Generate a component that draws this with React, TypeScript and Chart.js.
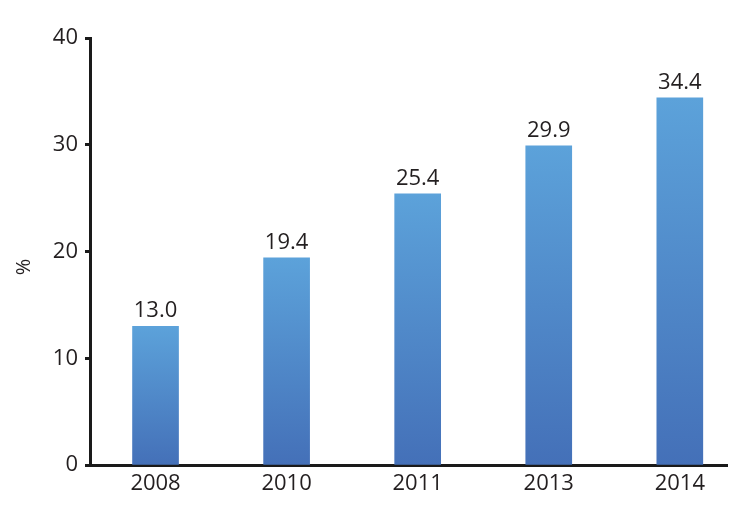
import React, { useEffect, useRef } from "react";
import { Chart, registerables } from "chart.js";

Chart.register(...registerables);

const categories: string[] = ["2008", "2010", "2011", "2013", "2014"];
const values: number[] = [13.0, 19.4, 25.4, 29.9, 34.4];
const yTicks: number[] = [0, 10, 20, 30, 40];
const yTitle = "%";

const FONT = "'Open Sans', 'Noto Sans', sans-serif";
const TEXT = "#231f20";
const AXIS = "#1a1a1a";

const barLabels = {
  id: "barLabels",
  afterDatasetsDraw(chart: any) {
    const ctx = chart.ctx;
    const meta = chart.getDatasetMeta(0);
    ctx.save();
    ctx.font = `22px ${FONT}`;
    ctx.fillStyle = TEXT;
    ctx.textAlign = "center";
    ctx.textBaseline = "bottom";
    meta.data.forEach((el: any, i: number) => {
      ctx.fillText(values[i].toFixed(1), el.x, el.y - 4);
    });
    ctx.restore();
  },
};

export default function App() {
  const ref = useRef<HTMLCanvasElement>(null);
  useEffect(() => {
    const chart = new Chart(ref.current!, {
      type: "bar",
      data: {
        datasets: [
          {
            data: values.map((v, i) => ({ x: i, y: v })),
            barThickness: 46,
            borderWidth: 0,
            backgroundColor: (c: any) => {
              const ch = c.chart;
              const ys = ch.scales?.y;
              if (!ys || c.raw == null) return "#5096d0";
              const top = ys.getPixelForValue(c.raw.y);
              const bottom = ys.getPixelForValue(0);
              if (!isFinite(top) || !isFinite(bottom) || top === bottom) return "#5096d0";
              const g = ch.ctx.createLinearGradient(0, top, 0, bottom);
              g.addColorStop(0, "#5ca2da");
              g.addColorStop(1, "#4470b8");
              return g;
            },
          },
        ],
      },
      options: {
        animation: false,
        responsive: false,
        maintainAspectRatio: false,
        layout: { padding: { top: 38, right: 20, left: 0, bottom: 0 } },
        plugins: { legend: { display: false }, tooltip: { enabled: false } },
        scales: {
          x: {
            type: "linear",
            offset: false,
            min: -0.5,
            max: 4.36,
            afterBuildTicks: (s: any) => {
              s.ticks = categories.map((_, i) => ({ value: i }));
            },
            afterFit: (s: any) => {
              s.height = 67;
            },
            grid: { display: false, drawTicks: false, offset: false },
            border: { display: true, width: 3, color: AXIS },
            ticks: {
              padding: 6,
              color: TEXT,
              font: { family: FONT, size: 22 },
              callback: (v: any) => categories[Math.round(v)] ?? "",
            },
          },
          y: {
            min: 0,
            max: 40,
            afterBuildTicks: (s: any) => {
              s.ticks = yTicks.map((v) => ({ value: v }));
            },
            afterFit: (s: any) => {
              s.width = 90;
            },
            grid: {
              drawOnChartArea: false,
              drawTicks: true,
              tickLength: 5,
              tickWidth: 3,
              tickColor: AXIS,
            },
            border: { display: true, width: 3, color: AXIS },
            ticks: {
              padding: 7,
              color: TEXT,
              font: { family: FONT, size: 22 },
            },
            title: {
              display: true,
              text: yTitle + "      ",
              color: TEXT,
              font: { family: FONT, size: 20 },
              padding: { top: 12, bottom: 0 },
            },
          },
        },
      },
      plugins: [barLabels],
    } as any);
    return () => chart.destroy();
  }, []);
  return (
    <div style={{ position: "absolute", left: 0, top: 0, width: 747, height: 532, background: "#fff" }}>
      <canvas ref={ref} width={747} height={532} style={{ display: "block" }} />
    </div>
  );
}
